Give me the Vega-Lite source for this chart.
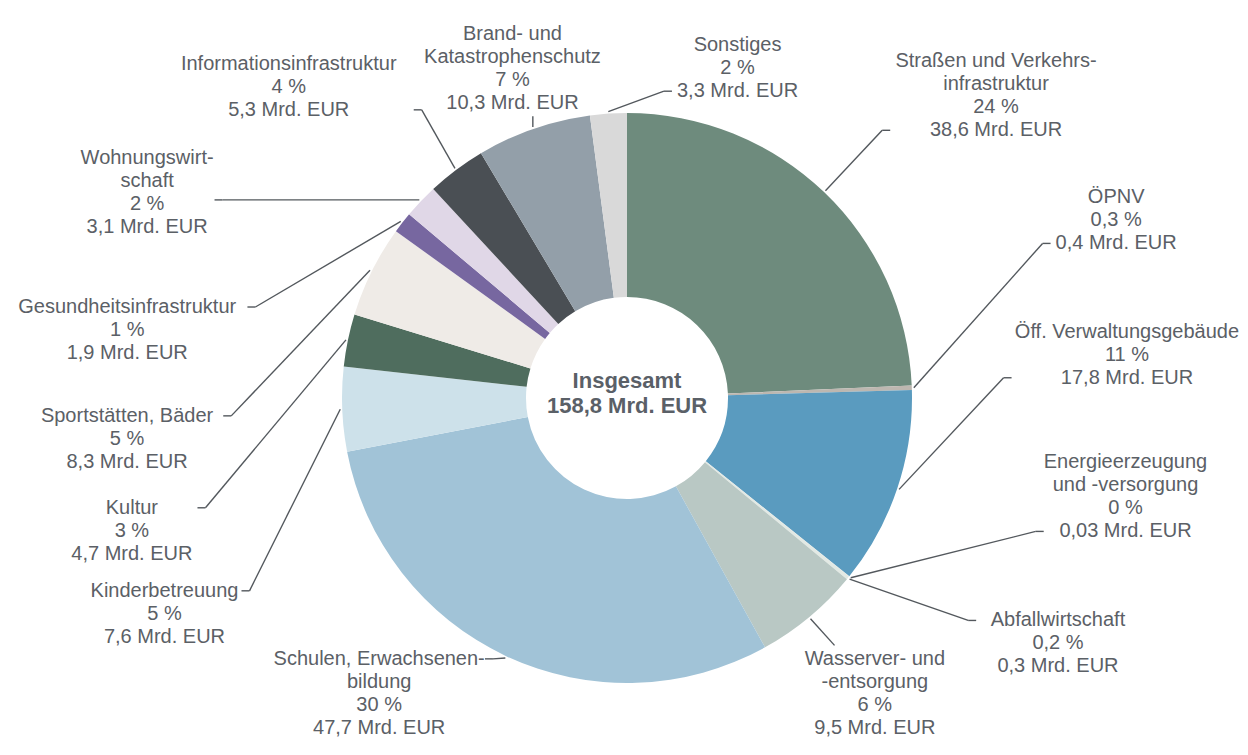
{
  "$schema": "https://vega.github.io/schema/vega-lite/v6.json",
  "width": 1242,
  "height": 714,
  "autosize": {"type": "none"},
  "padding": {"left": 6, "top": 41, "right": 0, "bottom": 0},
  "background": "white",
  "config": {"view": {"stroke": null}, "font": "Liberation Sans"},
  "data": {
    "values": [
      {"i": 1, "k": "Straßen und Verkehrs-\ninfrastruktur", "v": 38.6, "p": 24},
      {"i": 2, "k": "ÖPNV", "v": 0.4, "p": 0.3},
      {"i": 3, "k": "Öff. Verwaltungsgebäude", "v": 17.8, "p": 11},
      {"i": 4, "k": "Energieerzeugung\nund -versorgung", "v": 0.03, "p": 0},
      {"i": 5, "k": "Abfallwirtschaft", "v": 0.3, "p": 0.2},
      {"i": 6, "k": "Wasserver- und\n-entsorgung", "v": 9.5, "p": 6},
      {"i": 7, "k": "Schulen, Erwachsenen-\nbildung", "v": 47.7, "p": 30},
      {"i": 8, "k": "Kinderbetreuung", "v": 7.6, "p": 5},
      {"i": 9, "k": "Kultur", "v": 4.7, "p": 3},
      {"i": 10, "k": "Sportstätten, Bäder", "v": 8.3, "p": 5},
      {"i": 11, "k": "Gesundheitsinfrastruktur", "v": 1.9, "p": 1},
      {"i": 12, "k": "Wohnungswirt-\nschaft", "v": 3.1, "p": 2},
      {"i": 13, "k": "Informationsinfrastruktur", "v": 5.3, "p": 4},
      {"i": 14, "k": "Brand- und\nKatastrophenschutz", "v": 10.3, "p": 7},
      {"i": 15, "k": "Sonstiges", "v": 3.3, "p": 2}
    ]
  },
  "transform": [
    {"window": [{"op": "sum", "field": "v", "as": "cum"}], "sort": [{"field": "i"}], "frame": [null, 0]},
    {"joinaggregate": [{"op": "sum", "field": "v", "as": "tot"}]},
    {"calculate": "(datum.cum - datum.v / 2) / datum.tot * 360", "as": "mid"},
    {"calculate": "datum.mid < 180 ? datum.mid + 360 : datum.mid", "as": "ang"},
    {"calculate": "datum.mid < 180 || datum.mid > 350 ? 1 : 0", "as": "ch"},
    {"calculate": "datum.ch == 0 ? max(datum.ang, 220) : min(datum.ang, 500)", "as": "th"},
    {"window": [{"op": "lead", "field": "th", "as": "nx"}], "sort": [{"field": "ang"}]},
    {"calculate": "isValid(datum.nx) ? (datum.ch == 1 ? 15 + 22 * pow(cos((datum.th + datum.nx) * PI / 360), 4) : 10 + 30 * pow(cos((datum.th + datum.nx) * PI / 360), 4)) : 0", "as": "gap"},
    {"window": [{"op": "sum", "field": "gap", "as": "cinc"}], "sort": [{"field": "ang"}], "frame": [null, 0]},
    {"calculate": "datum.cinc - datum.gap", "as": "c0"},
    {"calculate": "datum.th - datum.c0", "as": "a0"},
    {"window": [{"op": "min", "field": "a0", "as": "bm"}], "groupby": ["ch"], "sort": [{"field": "ang"}], "frame": [0, null]},
    {"window": [{"op": "max", "field": "bm", "as": "fm"}], "sort": [{"field": "ang"}], "frame": [null, 0]},
    {"calculate": "(datum.fm + datum.c0) * PI / 180", "as": "phi"},
    {"calculate": "1 / pow(pow(abs(sin(datum.phi)) / 500, 4) + pow(abs(cos(datum.phi)) / (cos(datum.phi) > 0 ? 330 : 300), 4), 0.25)", "as": "lt"},
    {"calculate": "datum.lt * sin(datum.phi)", "as": "lx"},
    {"calculate": "datum.lt * cos(datum.phi)", "as": "ly"},
    {"calculate": "287 * sin(datum.mid * PI / 180)", "as": "ex"},
    {"calculate": "287 * cos(datum.mid * PI / 180)", "as": "ey"},
    {"calculate": "indexof(datum.k, '\\n')", "as": "br"},
    {"calculate": "datum.br < 0 ? 3 : 4", "as": "nl"},
    {"calculate": "max((datum.br < 0 ? length(datum.k) : max(datum.br, length(datum.k) - datum.br - 1)) * 9.6, (length(toString(datum.v)) + 9) * 10.1) / 2", "as": "hw"},
    {"calculate": "datum.nl * 11.5", "as": "hh"},
    {"calculate": "datum.ly + datum.hh - 11.5", "as": "ty"},
    {"calculate": "abs(datum.ex - datum.lx) > datum.hw + 15", "as": "sa"},
    {"calculate": "datum.sa ? (datum.ex < datum.lx ? datum.lx - datum.hw - 5 : datum.lx + datum.hw + 5) : clamp(datum.ex, datum.lx - 0.6 * datum.hw, datum.lx + 0.6 * datum.hw)", "as": "ax"},
    {"calculate": "datum.sa ? clamp(datum.ey, datum.ly - datum.hh + 11.5, datum.ly + datum.hh - 11.5) : (datum.ey < datum.ly ? datum.ly - datum.hh - 2 : datum.ly + datum.hh + 2)", "as": "ay"},
    {"calculate": "datum.sa ? (datum.ex < datum.lx ? datum.ax - 8 : datum.ax + 8) : datum.ax", "as": "kx"},
    {"calculate": "datum.ay", "as": "ky"},
    {"calculate": "datum.k + '\\n' + replace(toString(datum.p), '.', ',') + ' %\\n' + replace(toString(datum.v), '.', ',') + ' Mrd. EUR'", "as": "lab"}
  ],
  "layer": [
    {
      "mark": {"type": "arc", "outerRadius": 285, "innerRadius": 101},
      "encoding": {
        "theta": {"field": "v", "type": "quantitative", "stack": true},
        "order": {"field": "i", "type": "quantitative"},
        "color": {
          "field": "k",
          "type": "nominal",
          "legend": null,
          "scale": {
            "domain": ["Straßen und Verkehrs-\ninfrastruktur", "ÖPNV", "Öff. Verwaltungsgebäude", "Energieerzeugung\nund -versorgung", "Abfallwirtschaft", "Wasserver- und\n-entsorgung", "Schulen, Erwachsenen-\nbildung", "Kinderbetreuung", "Kultur", "Sportstätten, Bäder", "Gesundheitsinfrastruktur", "Wohnungswirt-\nschaft", "Informationsinfrastruktur", "Brand- und\nKatastrophenschutz", "Sonstiges"],
            "range": ["#6e8b7d", "#bdb7b0", "#5a9bbf", "#d6dcd8", "#e2e9e4", "#b9c8c4", "#a1c3d7", "#cde1ea", "#4f6d5e", "#efebe7", "#7767a0", "#e0d7e7", "#4a4f54", "#939fa9", "#d9d9d9"]
          }
        }
      }
    },
    {
      "mark": {"type": "rule", "color": "#53585d", "strokeWidth": 1.4},
      "encoding": {
        "x": {"field": "ex", "type": "quantitative", "scale": {"domain": [-621, 621], "nice": false, "zero": false}, "axis": null},
        "y": {"field": "ey", "type": "quantitative", "scale": {"domain": [-357, 357], "nice": false, "zero": false}, "axis": null},
        "x2": {"field": "kx"},
        "y2": {"field": "ky"}
      }
    },
    {
      "mark": {"type": "rule", "color": "#53585d", "strokeWidth": 1.4},
      "encoding": {
        "x": {"field": "kx", "type": "quantitative", "scale": {"domain": [-621, 621], "nice": false, "zero": false}, "axis": null},
        "y": {"field": "ky", "type": "quantitative", "scale": {"domain": [-357, 357], "nice": false, "zero": false}, "axis": null},
        "x2": {"field": "ax"},
        "y2": {"field": "ay"}
      }
    },
    {
      "mark": {"type": "text", "align": "center", "baseline": "middle", "fontSize": 20, "lineHeight": 23, "lineBreak": "\n", "color": "#5b6066"},
      "encoding": {
        "x": {"field": "lx", "type": "quantitative", "scale": {"domain": [-621, 621], "nice": false, "zero": false}, "axis": null},
        "y": {"field": "ty", "type": "quantitative", "scale": {"domain": [-357, 357], "nice": false, "zero": false}, "axis": null},
        "text": {"field": "lab"}
      }
    },
    {
      "transform": [
        {"filter": "datum.i == 1"},
        {"calculate": "'Insgesamt\\n' + replace(format(datum.tot, '.1f'), '.', ',') + ' Mrd. EUR'", "as": "ct"}
      ],
      "mark": {"type": "text", "align": "center", "baseline": "middle", "dy": -17, "fontSize": 22, "fontWeight": "bold", "lineHeight": 25, "lineBreak": "\n", "color": "#5a6067"},
      "encoding": {"text": {"field": "ct"}}
    }
  ]
}
